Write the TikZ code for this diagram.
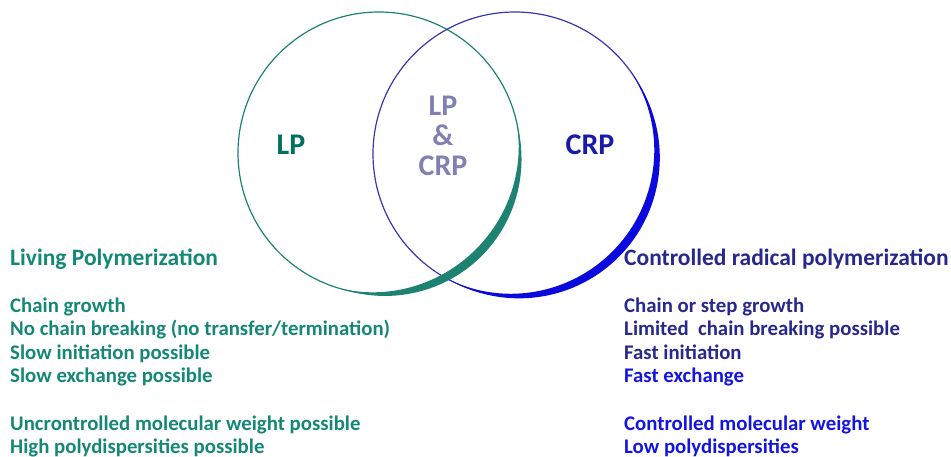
\documentclass[tikz,border=0pt]{standalone}
\usepackage{fontspec}
\setmainfont{Carlito}
\definecolor{tealline}{RGB}{30,130,115}
\definecolor{tealtext}{RGB}{20,135,118}
\definecolor{teallabel}{RGB}{0,112,96}
\definecolor{navytext}{RGB}{40,40,140}
\definecolor{bluetext}{RGB}{20,20,225}
\definecolor{crplabel}{RGB}{25,25,170}
\definecolor{midlabel}{RGB}{128,128,180}
\definecolor{blueline}{RGB}{55,55,175}
\definecolor{bluethick}{RGB}{10,10,220}
\begin{document}
\begin{tikzpicture}[x=1pt,y=1pt,
  vcircle/.style={circle,minimum size=#1,inner sep=0pt,line width=1.2pt},
  txt/.style={anchor=base west,inner sep=0pt,font=\fontsize{20.8}{24}\selectfont\bfseries},
  head/.style={anchor=base west,inner sep=0pt,font=\fontsize{23.5}{26}\selectfont\bfseries},
  big/.style={font=\fontsize{30}{31}\selectfont\bfseries,inner sep=0pt},
  declare function={tkA(\t)=4.4*sin(1.5254*(12-\t));tkB(\t)=4.2*sin(1.1765*(35-\t));}]
\useasboundingbox (0,0) rectangle (951,456);
% circles
\node[vcircle=282pt,draw=tealline] (lp) at (379,303) {};
\node[vcircle=284pt,draw=blueline] (crp) at (515,302) {};
% thick tapered arcs
\fill[tealline] plot[domain=12:-106,samples=80] ({379+(141+tkA(\x))*cos(\x)},{303+(141+tkA(\x))*sin(\x)})
  -- plot[domain=-106:12,samples=80] ({379+(141-tkA(\x))*cos(\x)},{303+(141-tkA(\x))*sin(\x)}) -- cycle;
\fill[bluethick] plot[domain=35:-118,samples=90] ({515+(142+tkB(\x))*cos(\x)},{302+(142+tkB(\x))*sin(\x)})
  -- plot[domain=-118:35,samples=90] ({515+(142-tkB(\x))*cos(\x)},{302+(142-tkB(\x))*sin(\x)}) -- cycle;
% labels in circles
\node[big,text=teallabel] (lpl) at (291,311) {LP};
\node[big,text=crplabel] (crpl) at (590,311) {CRP};
\node[big,text=midlabel,align=center] (mid) at (443,320) {LP\\[-1pt]\&\\[-1pt]CRP};
% left texts
\node[head,text=tealtext] (l0) at (10,191) {Living Polymerization};
\node[txt,text=tealtext] (l1) at (10,144) {Chain growth};
\node[txt,text=tealtext] (l2) at (10,120.5) {No chain breaking (no transfer/termination)};
\node[txt,text=tealtext] (l3) at (10,97) {Slow initiation possible};
\node[txt,text=tealtext] (l4) at (10,73.5) {Slow exchange possible};
\node[txt,text=tealtext] (l5) at (10,26) {Uncrontrolled molecular weight possible};
\node[txt,text=tealtext] (l6) at (10,3) {High polydispersities possible};
% right texts
\node[head,text=navytext] (r0) at (624,191) {Controlled radical polymerization};
\node[txt,text=navytext] (r1) at (624,144) {Chain or step growth};
\node[txt,text=navytext] (r2) at (624,120.5) {Limited\ \ chain breaking possible};
\node[txt,text=navytext] (r3) at (624,97) {Fast initiation};
\node[txt,text=bluetext] (r4) at (624,73.5) {Fast exchange};
\node[txt,text=bluetext] (r5) at (624,26) {Controlled molecular weight};
\node[txt,text=bluetext] (r6) at (624,3) {Low polydispersities};
\end{tikzpicture}
\end{document}
